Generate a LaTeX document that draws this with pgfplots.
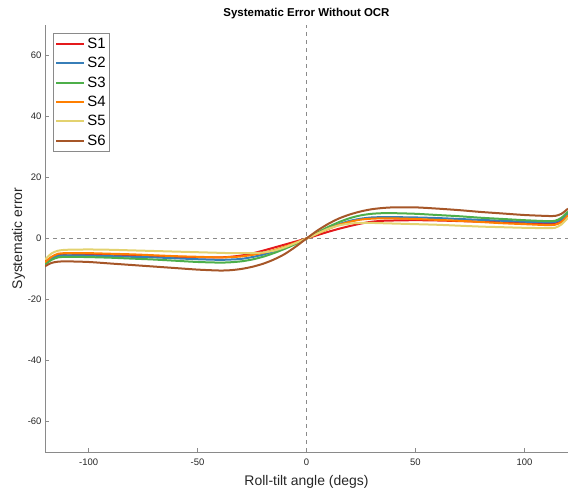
\documentclass[border=0pt]{standalone}
\usepackage{fontspec}
\setmainfont{Liberation Sans}
\usepackage{pgfplots}
\usepackage{pgfplotstable}
\pgfplotsset{compat=1.18}
\usetikzlibrary{calc}

\definecolor{cS1}{HTML}{E41A1C}
\definecolor{cS2}{HTML}{377EB8}
\definecolor{cS3}{HTML}{4DAF4A}
\definecolor{cS4}{HTML}{FF7F00}
\definecolor{cS5}{HTML}{E3D26F}
\definecolor{cS6}{HTML}{A65628}
\definecolor{axgray}{HTML}{8A8A8A}
\definecolor{txt}{HTML}{262626}

\pgfplotstableread{
x     S1    S2    S3    S4    S5    S6
-120 -7.6  -8.0  -8.5  -7.8  -6.9  -9.1
-117 -6.2  -6.5  -7.0  -6.0  -4.9  -8.0
-114 -5.3  -5.7  -6.2  -5.0  -4.0  -7.6
-110 -5.0  -5.5  -6.0  -4.8  -3.7  -7.5
-100 -5.1  -5.6  -6.1  -4.8  -3.6  -7.7
-90  -5.3  -5.8  -6.3  -5.0  -3.7  -8.2
-80  -5.5  -6.0  -6.6  -5.2  -3.9  -8.7
-70  -5.8  -6.2  -6.9  -5.5  -4.1  -9.2
-60  -6.0  -6.5  -7.3  -5.8  -4.3  -9.7
-50  -6.2  -6.8  -7.7  -6.0  -4.5  -10.2
-40  -6.2  -7.0  -7.9  -6.2  -4.7  -10.5
-35  -6.0  -6.9  -7.8  -6.1  -4.8  -10.4
-30  -5.6  -6.7  -7.5  -5.9  -4.8  -10.0
-25  -4.9  -6.1  -6.9  -5.4  -4.8  -9.3
-20  -4.0  -5.3  -6.0  -4.7  -4.6  -8.3
-15  -3.0  -4.2  -4.8  -3.8  -4.0  -6.9
-10  -2.0  -3.0  -3.4  -2.7  -2.9  -5.1
-5   -1.0  -1.6  -1.8  -1.4  -1.5  -2.7
0     0.0   0.0   0.0   0.0   0.0   0.0
5     1.1   1.7   1.9   1.6   1.6   2.6
10    2.2   3.3   3.8   3.1   3.2   4.8
15    3.2   4.7   5.4   4.5   4.3   6.6
20    4.1   5.8   6.7   5.5   4.9   7.9
25    4.9   6.5   7.6   6.2   5.1   8.9
30    5.5   6.9   8.1   6.5   5.1   9.6
35    5.8   7.0   8.3   6.6   5.0   10.0
40    5.9   7.0   8.3   6.6   4.9   10.2
50    6.0   6.9   8.1   6.4   4.7   10.2
60    5.9   6.7   7.7   6.1   4.5   9.8
70    5.7   6.4   7.3   5.8   4.2   9.3
80    5.5   6.1   6.8   5.4   3.9   8.7
90    5.3   5.8   6.4   5.0   3.7   8.2
100   5.1   5.5   6.0   4.7   3.5   7.7
110   5.0   5.3   5.7   4.4   3.4   7.4
114   5.1   5.4   5.8   4.5   3.5   7.4
117   6.0   6.3   6.8   5.4   4.6   8.1
120   7.8   8.2   8.8   7.6   6.8   9.8
}\sysdata

\begin{document}
\begin{tikzpicture}
\begin{axis}[
    scale only axis,
    width=523bp, height=427bp,
    xmin=-120, xmax=120, ymin=-70, ymax=70,
    xtick={-100,-50,0,50,100},
    ytick={-60,-40,-20,0,20,40,60},
    axis x line*=bottom, axis y line*=left,
    axis line style={axgray, line width=0.9pt, -},
    tick align=inside,
    major tick length=4bp,
    tick style={axgray, line width=0.7pt},
    /pgf/number format/assume math mode=true,
    tick label style={font=\fontsize{9.5}{11}\selectfont, text=txt},
    xticklabel style={yshift=-3bp},
    xlabel={Roll-tilt angle (degs)},
    ylabel={Systematic error},
    label style={font=\fontsize{14}{16}\selectfont, text=txt},
    xlabel style={yshift=-3bp},
    ylabel style={yshift=-4bp},
    title={\textbf{Systematic Error Without OCR}},
    title style={font=\fontsize{11.5}{13}\selectfont, yshift=-3bp},
    legend style={at={(0.015,0.981)}, anchor=north west, draw=axgray,
        font=\fontsize{15}{16}\selectfont, row sep=3.5bp,
        inner xsep=2bp, inner ysep=2.5bp},
    legend cell align=left,
    legend image code/.code={\draw[#1, line width=2bp] (0cm,0cm) -- (1.0cm,0cm);},
]
\addplot[axgray, dash pattern=on 4bp off 4bp, line width=0.9pt, forget plot] coordinates {(-120,0) (120,0)};
\addplot[axgray, dash pattern=on 4bp off 4bp, line width=0.9pt, forget plot] coordinates {(0,-70) (0,70)};
\addplot[cS1, line width=2bp, smooth, tension=0.45, no markers] table[x=x, y=S1] {\sysdata};
\addlegendentry{S1}
\addplot[cS2, line width=2bp, smooth, tension=0.45, no markers] table[x=x, y=S2] {\sysdata};
\addlegendentry{S2}
\addplot[cS3, line width=2bp, smooth, tension=0.45, no markers] table[x=x, y=S3] {\sysdata};
\addlegendentry{S3}
\addplot[cS4, line width=2bp, smooth, tension=0.45, no markers] table[x=x, y=S4] {\sysdata};
\addlegendentry{S4}
\addplot[cS5, line width=2bp, smooth, tension=0.45, no markers] table[x=x, y=S5] {\sysdata};
\addlegendentry{S5}
\addplot[cS6, line width=2bp, smooth, tension=0.45, no markers] table[x=x, y=S6] {\sysdata};
\addlegendentry{S6}
\end{axis}
\pgfresetboundingbox
\path[use as bounding box] ($(current axis.south west)+(-45bp,-40bp)$) rectangle ($(current axis.north east)+(0bp,25bp)$);
\end{tikzpicture}
\end{document}
